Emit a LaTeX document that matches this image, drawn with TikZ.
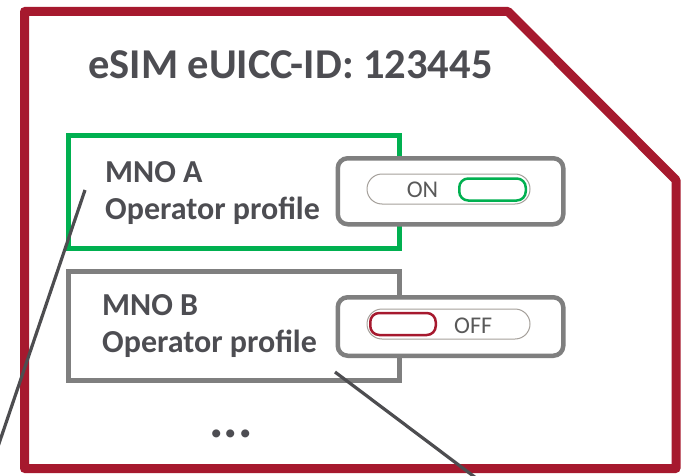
\documentclass[tikz,border=0pt]{standalone}
\usepackage{fontspec}
\setmainfont{Carlito}
\definecolor{simred}{RGB}{166,25,46}
\definecolor{grn}{RGB}{0,176,80}
\definecolor{boxgray}{RGB}{127,127,127}
\definecolor{txt}{RGB}{77,77,82}
\definecolor{pillgray}{RGB}{165,160,155}
\definecolor{linegray}{RGB}{77,77,80}
\definecolor{swtxt}{RGB}{89,89,89}
\begin{document}
\begin{tikzpicture}[x=1pt,y=-1pt,
  title/.style={text=txt,font=\fontsize{42.5}{42.5}\selectfont\bfseries,inner sep=0pt,anchor=base west},
  lbl/.style={text=txt,font=\fontsize{32}{32}\selectfont\bfseries,inner sep=0pt,anchor=base west},
  swlbl/.style={text=swtxt,font=\fontsize{24}{24}\selectfont,inner sep=0pt},
  profbox/.style={line width=5pt,inner sep=0pt,anchor=north west},
  swbox/.style={draw=boxgray,fill=white,line width=4.5pt,rounded corners=10pt,inner sep=0pt,anchor=north west,minimum width=225.5pt},
  pill/.style={draw=pillgray,fill=white,line width=1pt,rounded corners=15pt,inner sep=0pt,minimum width=163pt,minimum height=30pt},
  knob/.style={line width=2.5pt,rounded corners=9pt,inner sep=0pt,minimum height=22pt},
  leader/.style={draw=linegray,line width=3.2pt}]
\useasboundingbox (0,0) rectangle (682,476);
\fill[white] (0,0) rectangle (682,476);
% SIM outline
\draw[simred,line width=9pt,line join=round] (24.5,11.5) -- (508,11.5) -- (676,180) -- (676,468.5) -- (24.5,468.5) -- cycle;
% title
\node[title] (title) at (88,79) {eSIM eUICC-ID: 123445};
% profile boxes
\node[profbox,draw=grn,minimum width=331.5pt,minimum height=113pt] (boxA) at (65.5,133) {};
\node[profbox,draw=boxgray,minimum width=331pt,minimum height=109.5pt] (boxB) at (66,268.5) {};
\node[lbl] (mnoA) at (105,182) {MNO A};
\node[lbl] (opA) at (105,219) {Operator profile};
\node[lbl] (mnoB) at (102,315) {MNO B};
\node[lbl] (opB) at (102,352) {Operator profile};
% switches
\node[swbox,minimum height=66pt] (swA) at (335.5,156) {};
\node[swbox,minimum height=58.5pt] (swB) at (335.5,295) {};
\node[pill] (pillA) at (448.5,189) {};
\node[knob,draw=grn,minimum width=66.5pt] (knobA) at (492.5,189.5) {};
\node[swlbl,anchor=base] (on) at (422.5,197) {ON};
\node[pill] (pillB) at (448.5,324) {};
\node[knob,draw=simred,minimum width=65.5pt] (knobB) at (403,324) {};
\node[swlbl,anchor=base west] (off) at (454,333) {OFF};
% more
\node[text=txt,font=\fontsize{54}{54}\selectfont\bfseries,inner sep=0pt,anchor=base] (more) at (231,437) {...};
% leader lines
\coordinate (l1a) at (85,190);
\coordinate (l1b) at (-12,476);
\coordinate (l2a) at (335,372);
\coordinate (l2b) at (476,478);
\draw[leader] (l1a) -- (l1b);
\draw[leader] (l2a) -- (l2b);
\end{tikzpicture}
\end{document}
